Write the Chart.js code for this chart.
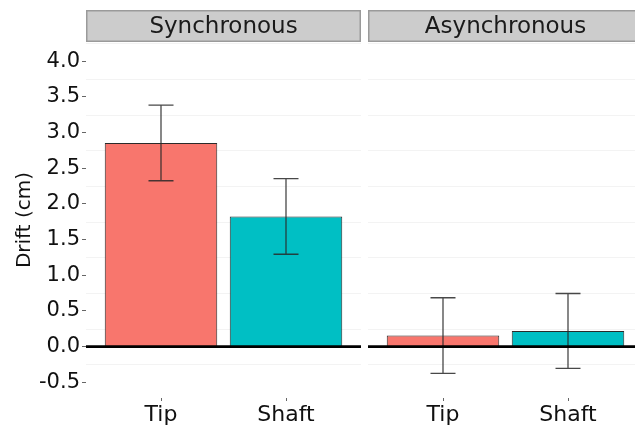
<!DOCTYPE html>
<html>
<head>
<meta charset="utf-8">
<script src="https://cdn.jsdelivr.net/npm/chart.js@4.4.1/dist/chart.umd.min.js"></script>
<style>
  html, body { margin: 0; padding: 0; background: #fff; overflow: hidden; width: 635px; height: 431px; }
  #wrap { position: relative; width: 635px; height: 431px; overflow: hidden; }
  canvas { position: absolute; top: 0; }
  #left { left: 0; }
  #right { left: 368px; }
</style>
</head>
<body>
<div id="wrap">
  <canvas id="left" width="361" height="431"></canvas>
  <canvas id="right" width="275" height="431"></canvas>
</div>
<script>
// Drift by feedback location, split by timing condition
const categories = ['Tip', 'Shaft'];
const panelTitles = ['Synchronous', 'Asynchronous'];
const syncMeans = [2.855, 1.825];
const syncErrors = [0.53, 0.53];
const asyncMeans = [0.155, 0.22];
const asyncErrors = [0.53, 0.525];
const yTickValues = [-0.5, 0, 0.5, 1.0, 1.5, 2.0, 2.5, 3.0, 3.5, 4.0];
const minorGridValues = [-0.25, 0.25, 0.75, 1.25, 1.75, 2.25, 2.75, 3.25, 3.75, 4.25];

const FONT = "'DejaVu Sans', sans-serif";
const barColors = ['#F8766D', '#00BFC4'];
const Y_MIN = -0.72, Y_MAX = 4.27;

// Facet strip, faint minor grid, error bars and the zero reference line
const panelDecor = {
  id: 'panelDecor',
  beforeDatasetsDraw(chart) {
    const { ctx, chartArea: a, scales: { y } } = chart;
    ctx.save();
    ctx.strokeStyle = '#f3f3f3';
    ctx.lineWidth = 1;
    minorGridValues.forEach(v => {
      const py = Math.round(y.getPixelForValue(v)) + 0.5;
      if (py < a.top || py > a.bottom) return;
      ctx.beginPath();
      ctx.moveTo(a.left, py);
      ctx.lineTo(a.right, py);
      ctx.stroke();
    });
    ctx.restore();
  },
  afterDatasetsDraw(chart, args, opts) {
    const { ctx, chartArea: a, scales: { x, y } } = chart;
    ctx.save();
    // error bars (mean ± error)
    ctx.strokeStyle = 'rgba(40,40,40,0.85)';
    ctx.lineWidth = 1.3;
    opts.means.forEach((m, i) => {
      const e = opts.errors[i];
      const cx = x.getPixelForValue(i);
      const x0 = x.getPixelForValue(i - 0.1);
      const x1 = x.getPixelForValue(i + 0.1);
      const yHi = y.getPixelForValue(m + e);
      const yLo = y.getPixelForValue(m - e);
      ctx.beginPath();
      ctx.moveTo(cx, yHi); ctx.lineTo(cx, yLo);
      ctx.moveTo(x0, yHi); ctx.lineTo(x1, yHi);
      ctx.moveTo(x0, yLo); ctx.lineTo(x1, yLo);
      ctx.stroke();
    });
    // zero line
    const z = y.getPixelForValue(0);
    ctx.strokeStyle = '#000';
    ctx.lineWidth = 2.6;
    ctx.beginPath();
    ctx.moveTo(a.left, z);
    ctx.lineTo(a.right, z);
    ctx.stroke();
    ctx.restore();
  },
  afterDraw(chart, args, opts) {
    const { ctx, chartArea: a } = chart;
    const top = a.top - 32;
    ctx.save();
    ctx.fillStyle = '#cccccc';
    ctx.fillRect(a.left, top, a.right - a.left, 32);
    ctx.strokeStyle = '#9a9a9a';
    ctx.lineWidth = 1.5;
    ctx.strokeRect(a.left + 0.75, top + 0.75, a.right - a.left - 1.5, 30.5);
    ctx.fillStyle = '#1a1a1a';
    ctx.font = '23px ' + FONT;
    ctx.textAlign = 'center';
    ctx.textBaseline = 'middle';
    ctx.fillText(opts.title, (a.left + a.right) / 2, top + 17);
    ctx.restore();
  }
};

function makePanel(canvasId, title, means, errors, showY) {
  const data = means.map((v, i) => ({ x: i, y: v }));
  return new Chart(document.getElementById(canvasId), {
    type: 'bar',
    data: {
      datasets: [{
        data: data,
        backgroundColor: barColors,
        borderColor: '#2b2b2b',
        borderWidth: 1,
        barPercentage: 0.9,
        categoryPercentage: 1.0
      }]
    },
    options: {
      responsive: false,
      animation: false,
      devicePixelRatio: 1,
      layout: { padding: { top: 42, left: 0, right: 0, bottom: 0 } },
      plugins: {
        legend: { display: false },
        tooltip: { enabled: false },
        panelDecor: { title: title, means: means, errors: errors }
      },
      scales: {
        x: {
          type: 'linear',
          offset: false,
          min: -0.6,
          max: 1.6,
          afterBuildTicks(s) { s.ticks = categories.map((c, i) => ({ value: i })); },
          afterFit(s) { s.height = 33; },
          border: { display: false },
          grid: { offset: false, drawOnChartArea: false, drawTicks: true, tickLength: 3, color: '#666' },
          ticks: {
            callback: (v) => categories[v],
            font: { family: FONT, size: 22 },
            color: '#111',
            padding: 1,
            maxRotation: 0
          }
        },
        y: {
          display: showY,
          min: Y_MIN,
          max: Y_MAX,
          afterBuildTicks(s) { s.ticks = yTickValues.map(v => ({ value: v })); },
          afterFit(s) { s.width = showY ? 86 : 0; },
          border: { display: false },
          grid: { drawOnChartArea: false, drawTicks: true, tickLength: 4, color: '#666' },
          ticks: {
            callback: (v) => v.toFixed(1),
            font: { family: FONT, size: 21 },
            color: '#111',
            padding: 2
          },
          title: {
            display: true,
            text: 'Drift (cm)',
            font: { family: FONT, size: 20 },
            color: '#111',
            padding: { top: 13, bottom: 0 }
          }
        }
      }
    },
    plugins: [panelDecor]
  });
}

makePanel('left', panelTitles[0], syncMeans, syncErrors, true);
makePanel('right', panelTitles[1], asyncMeans, asyncErrors, false);
</script>
</body>
</html>
